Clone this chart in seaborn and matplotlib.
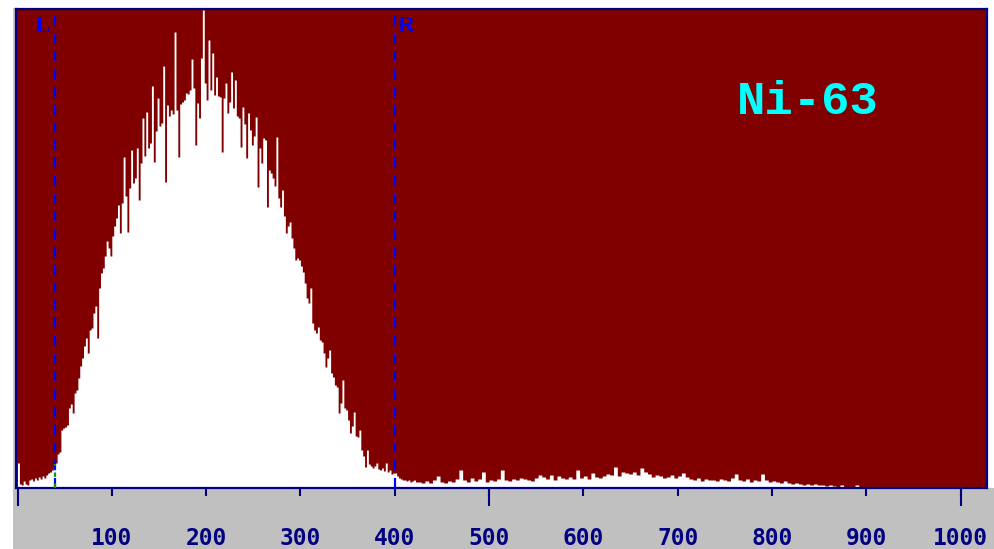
import numpy as np
import pandas as pd
import matplotlib
matplotlib.use("Agg")
import matplotlib.pyplot as plt
from matplotlib.patches import Rectangle
import seaborn as sns

# ---- data ----
# channels 0..423 in 2-channel bins
fine_width = 2
counts_fine = [
    25, 4, 3, 7, 4, 3, 8, 9, 7, 10,
    8, 11, 9, 12, 10, 13, 15, 16, 18, 21,
    25, 34, 36, 58, 60, 61, 63, 80, 84, 75,
    95, 98, 110, 122, 130, 142, 150, 135, 158, 160,
    175, 182, 150, 200, 215, 220, 232, 247, 240, 232,
    252, 262, 270, 283, 255, 285, 331, 292, 256, 300,
    338, 305, 310, 340, 288, 325, 370, 332, 376, 340,
    345, 402, 326, 357, 390, 362, 365, 422, 306, 383,
    372, 378, 374, 456, 378, 331, 384, 386, 388, 395,
    394, 398, 429, 400, 343, 385, 370, 430, 478, 405,
    388, 448, 398, 435, 393, 411, 392, 391, 336, 390,
    405, 375, 386, 416, 380, 408, 372, 370, 341, 381,
    364, 330, 375, 358, 343, 352, 371, 301, 340, 325,
    350, 348, 281, 318, 315, 310, 302, 351, 290, 281,
    298, 272, 255, 262, 266, 250, 240, 228, 230, 228,
    222, 216, 205, 190, 185, 200, 165, 158, 155, 161,
    148, 146, 135, 121, 130, 138, 115, 111, 103, 101,
    75, 85, 108, 80, 78, 68, 55, 62, 76, 52,
    51, 58, 38, 32, 21, 38, 24, 22, 20, 22,
    25, 19, 18, 20, 17, 25, 16, 18, 14, 15,
    15, 12, 10, 9, 8, 8, 7, 8, 6, 7,
    8, 6,
]
# channels 424..1023 in 4-channel bins
coarse_width = 4
counts_tail = [
    6, 5, 7, 5, 8, 12, 6, 5, 7, 6,
    9, 18, 8, 6, 10, 7, 9, 16, 6, 8,
    7, 9, 18, 8, 7, 9, 8, 10, 9, 8,
    7, 10, 13, 11, 9, 13, 8, 12, 10, 9,
    11, 9, 18, 10, 12, 9, 15, 11, 10, 12,
    14, 13, 21, 12, 16, 15, 14, 16, 13, 20,
    16, 14, 11, 13, 12, 10, 11, 13, 10, 12,
    15, 11, 9, 8, 10, 7, 9, 8, 8, 7,
    9, 8, 7, 10, 14, 8, 7, 9, 6, 8,
    7, 14, 8, 6, 7, 6, 5, 7, 5, 4,
    5, 4, 3, 4, 3, 4, 3, 3, 2, 3,
    2, 0, 3, 0, 0, 0, 3, 0, 0, 0,
    0, 0, 0, 0, 0, 0, 0, 0, 0, 0,
    0, 0, 0, 0, 0, 0, 0, 0, 0, 0,
    0, 0, 0, 0, 0, 0, 0, 0, 0, 0,
]
tick_values = [100, 200, 300, 400, 500, 600, 700, 800, 900, 1000]
tick_labels = ["100", "200", "300", "400", "500", "600", "700", "800", "900", "1000"]
long_ticks = [0, 500, 1000]
roi_left, roi_right = 40, 400
title_text = "Ni-63"

split = len(counts_fine) * fine_width
edges = list(np.arange(0, split, fine_width)) + \
    list(np.arange(split, split + (len(counts_tail) + 1) * coarse_width, coarse_width))
edges = [float(e) for e in edges]
centers = [(a + b) / 2 for a, b in zip(edges[:-1], edges[1:])]
df = pd.DataFrame({"channel": centers,
                   "count": np.array(counts_fine + counts_tail, dtype=float)})

# ---- figure ----
sns.set_style("white")
W, H = 995, 549
fig = plt.figure(figsize=(W / 100, H / 100), dpi=100)
fig.patch.set_facecolor("white")

# gray panel at bottom
fig.add_artist(Rectangle((13 / W, 0), 1, 61 / H, transform=fig.transFigure,
                         facecolor="#c0c0c0", edgecolor="none", zorder=-5))
fig.add_artist(Rectangle((13 / W, 61 / H), 3 / W, (488 - 8) / H, transform=fig.transFigure,
                         facecolor="#c8c8c8", edgecolor="none", zorder=-5))

ax = fig.add_axes([16 / W, 61 / H, (987 - 16) / W, (488 - 9) / H])
ax.set_facecolor("#800000")

sns.histplot(data=df, x="channel", weights="count", bins=edges, element="step",
             fill=True, color="white", alpha=1.0, linewidth=0, ax=ax)

ax.set_xlim(-1.6, 1028)
ax.set_ylim(0, 479)
ax.set_ylabel("")
ax.set_xlabel("")
ax.set_yticks([])

navy = "#000080"
for side in ["top", "bottom", "left", "right"]:
    ax.spines[side].set_visible(True)
    ax.spines[side].set_color(navy)
    ax.spines[side].set_linewidth(1.6)

ax.xaxis.remove_overlapping_locs = False
ax.set_xticks(tick_values)
ax.set_xticklabels(tick_labels)
ax.set_xticks(long_ticks, minor=True)
ax.tick_params(axis="x", which="major", direction="out", length=5.8, width=1.5,
               color=navy, pad=22, labelsize=16.5, labelcolor=navy, bottom=True)
ax.tick_params(axis="x", which="minor", direction="out", length=13, width=1.5,
               color=navy, bottom=True)
for lab in ax.get_xticklabels():
    lab.set_fontfamily("DejaVu Sans Mono")
    lab.set_fontweight("bold")

# ROI markers
for xv in (roi_left, roi_right):
    ax.axvline(xv, color="#0000ff", lw=1.6, ls=(0, (4.5, 3.5)), zorder=5)
ax.vlines(roi_left, 0, 24, color="#00a000", lw=1.6, ls=(0, (2, 3)), zorder=6)

ax.text(roi_left - 5, 462, "L", color="#0000ff", fontsize=17, fontweight="bold",
        family="Liberation Serif", ha="right", va="center", zorder=7)
ax.text(roi_right + 3, 462, "R", color="#0000ff", fontsize=17, fontweight="bold",
        family="Liberation Serif", ha="left", va="center", zorder=7)

ax.text(0.815, 0.806, title_text, transform=ax.transAxes, color="#00ffff",
        fontsize=34, fontweight="bold", family="Liberation Mono",
        ha="center", va="center")

fig.savefig("out.png", dpi=100, facecolor="white")
